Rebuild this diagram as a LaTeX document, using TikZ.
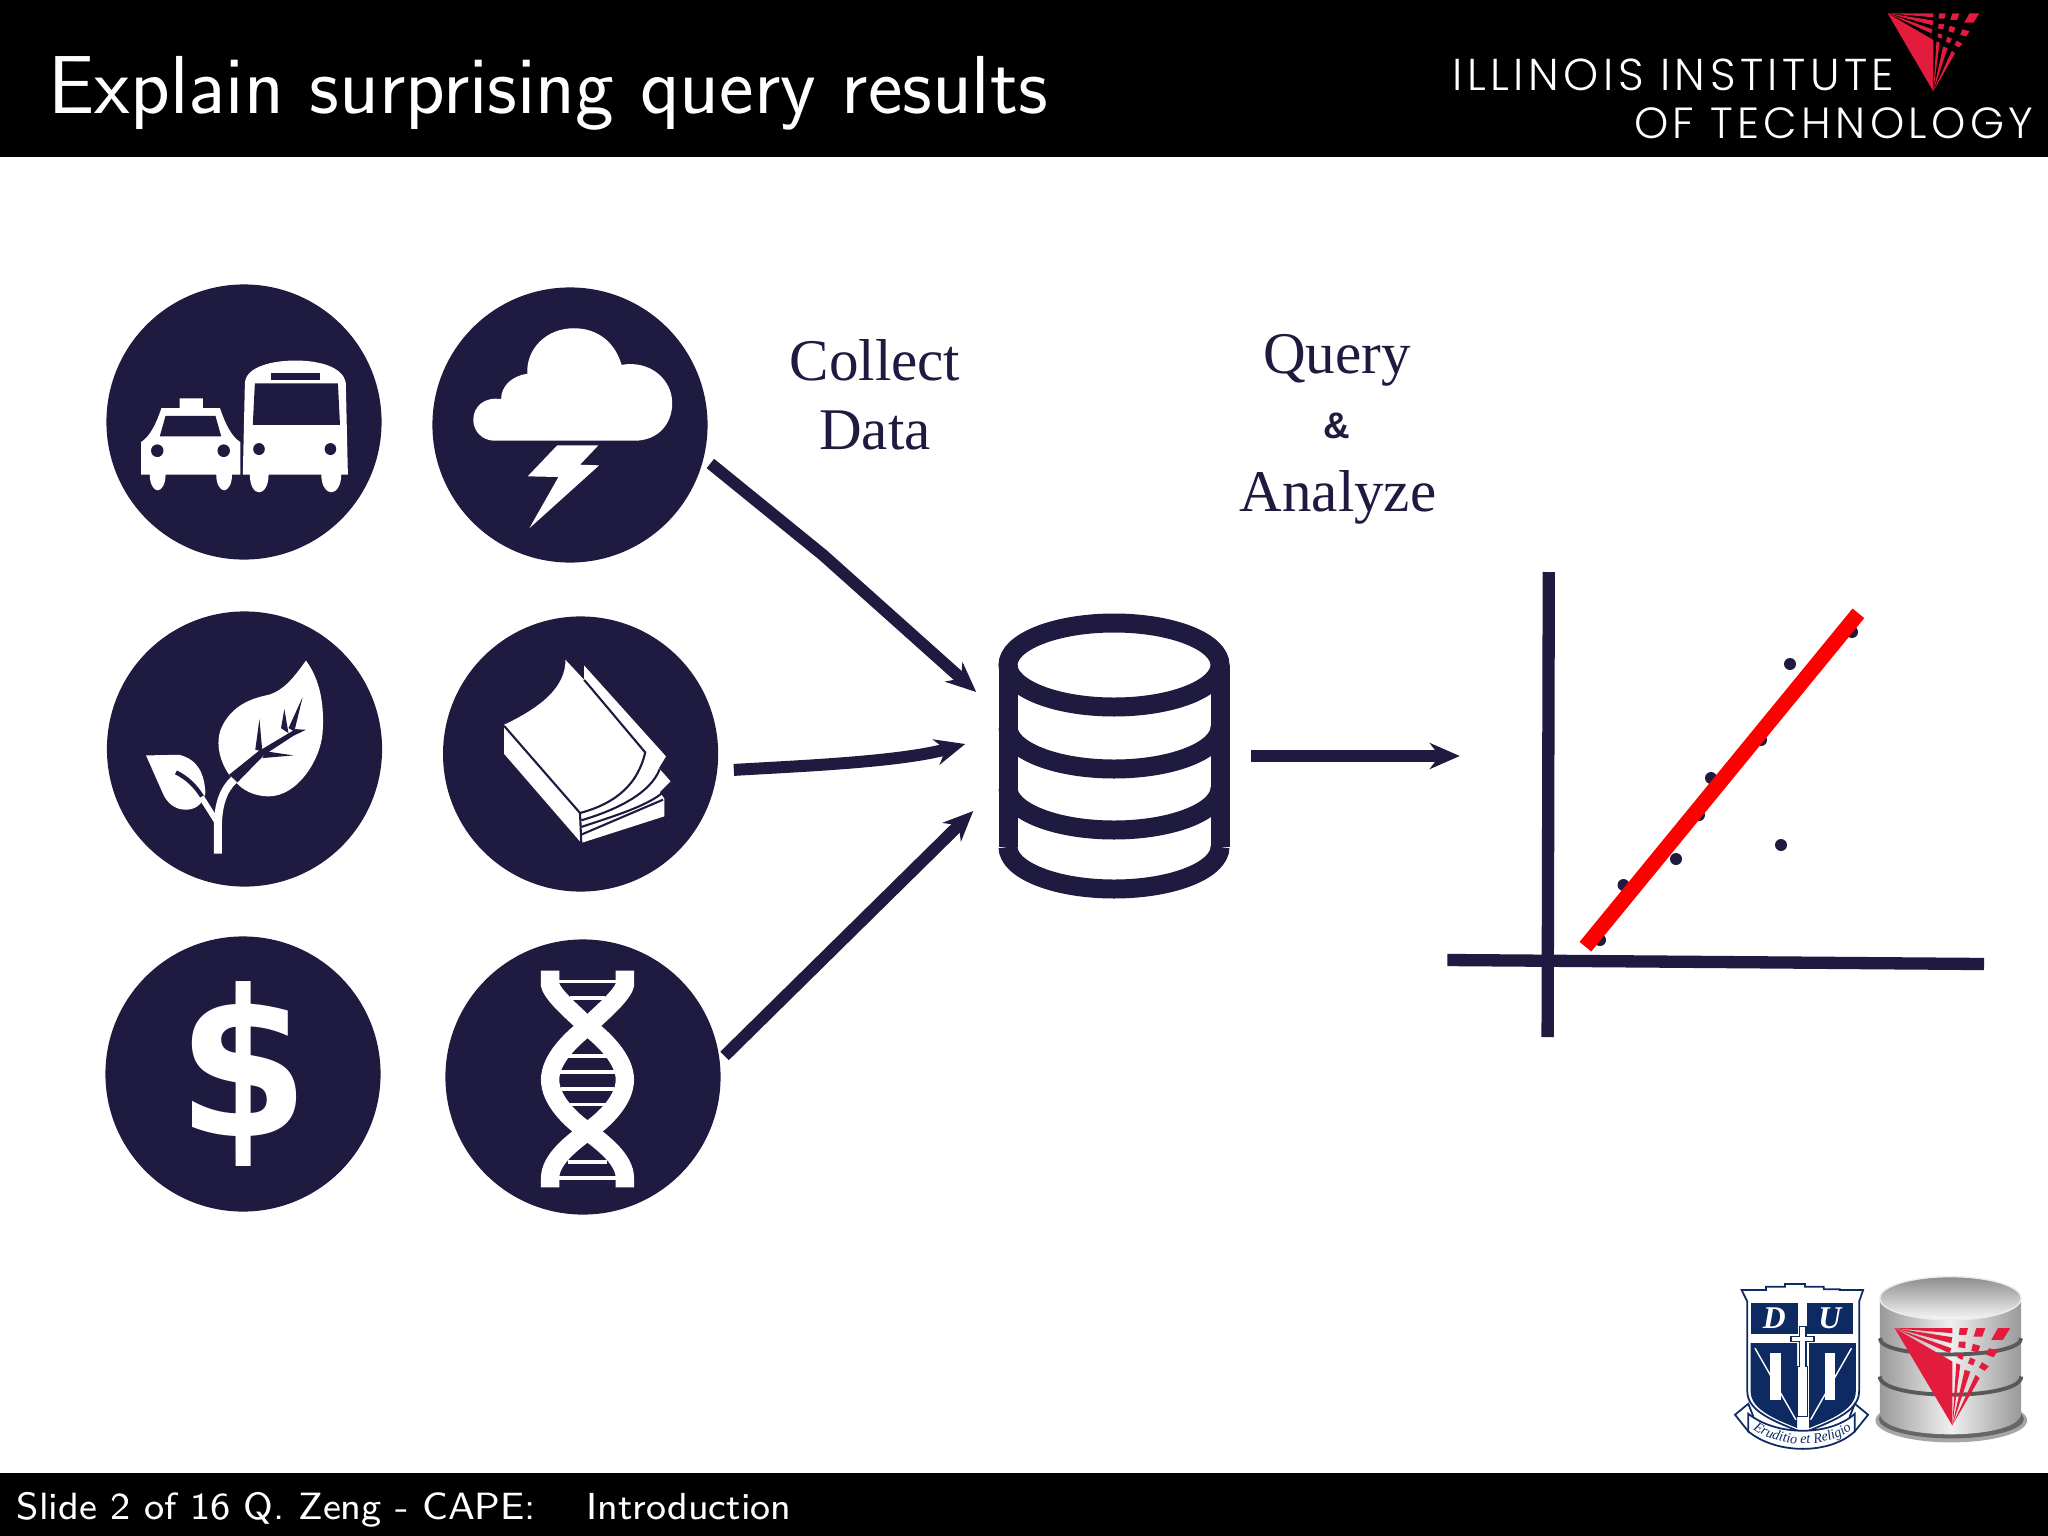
\documentclass[tikz,border=0pt]{standalone}
\usepackage{fontspec}
\usepackage{tikz}
\usetikzlibrary{shapes,arrows.meta,positioning,calc,decorations.text}
\newfontfamily\labelfont{Liberation Serif}
\newfontfamily\ampfont{Liberation Sans}
\newfontfamily\moneyfont[FakeStretch=0.93]{DejaVu Sans}
\newfontfamily\logofont[UprightFont=* Light, LetterSpace=10]{Poppins}
\newfontfamily\footfont[OpticalSize=8]{Latin Modern Sans}
\definecolor{navy}{HTML}{1F1A3F}
\definecolor{iitred}{HTML}{E31B3C}
\definecolor{dukeblue}{HTML}{0E2A63}
\tikzset{
  badge/.style={circle, fill=navy, minimum size=2.75cm, inner sep=0pt, text=white},
  flow/.style={draw=navy, line width=3.4pt, -{Stealth[length=3mm,width=2.6mm]}},
  axisline/.style={draw=navy, line width=3.5pt},
  caption/.style={anchor=base, text=navy, inner sep=0pt, font=\labelfont\fontsize{16.8}{20}\selectfont},
  zoomed/.style={x=0.004146cm, y=-0.003333cm},
  logozoom/.style={x=0.003333cm, y=-0.003333cm},
  dbstroke/.style={draw=navy, line width=5.4pt},
  iitmark/.pic={
    \fill[iitred] (0,0) -- (173,292) -- (173,100) -- cycle;
    \fill[iitred] (0,0) -- (173,0) -- (173,15) -- cycle;
    \fill[iitred] (0,0) -- (173,27) -- (170,45) -- cycle;
    \fill[iitred] (0,0) -- (170,60) -- (165,75) -- cycle;
    \fill[iitred] (173,292) -- (185,105) -- (197,110) -- cycle;
    \fill[iitred] (173,292) -- (210,125) -- (227,130) -- cycle;
    \fill[iitred] (173,292) -- (243,140) -- (255,150) -- cycle;
    \fill[iitred] (195,0) -- (220,0) -- (215,20) -- (193,20) -- cycle;
    \fill[iitred] (245,0) -- (272,0) -- (263,25) -- (237,25) -- cycle;
    \fill[iitred] (310,0) -- (347,0) -- (325,35) -- (290,35) -- cycle;
    \fill[iitred] (193,40) -- (213,40) -- (212,60) -- (191,57) -- cycle;
    \fill[iitred] (235,47) -- (257,53) -- (250,73) -- (230,67) -- cycle;
    \fill[iitred] (283,60) -- (310,67) -- (297,87) -- (275,80) -- cycle;
    \fill[iitred] (192,75) -- (208,80) -- (203,95) -- (188,88) -- cycle;
    \fill[iitred] (227,88) -- (243,95) -- (235,112) -- (220,105) -- cycle;
    \fill[iitred] (262,102) -- (283,115) -- (270,128) -- (253,118) -- cycle;
  }
}
\begin{document}
\begin{tikzpicture}[x=0.01cm, y=-0.01cm, every node/.style={inner sep=0pt}]
\useasboundingbox (0,0) rectangle (2048,1536);
\fill[white] (0,0) rectangle (2048,1536);
\fill[black] (0,0) rectangle (2048,157);
\fill[black] (0,1473) rectangle (2048,1536);
\node[anchor=base west, text=white, font=\sffamily\fontsize{23.4}{28}\selectfont] (title) at (48,113) {Explain surprising query results};
\node[anchor=base east, text=white, font=\logofont\fontsize{12.7}{15}\selectfont] (iitone) at (1895,90) {ILLINOIS INSTITUTE};
\node[anchor=base east, text=white, font=\logofont\fontsize{12.4}{15}\selectfont] (iittwo) at (2034,138) {OF TECHNOLOGY};
\coordinate (headmark) at (1887.6,13.3);
\pic[x=0.00264cm, y=-0.00267cm] at (headmark) {iitmark};
\node[anchor=base west, text=white, font=\footfont\fontsize{10.8}{14}\selectfont] (slideno) at (16,1519) {Slide 2 of 16 Q. Zeng - CAPE:};
\node[anchor=base west, text=white, font=\footfont\fontsize{10.7}{14}\selectfont] (section) at (586,1519) {Introduction};

\node[badge] (taxi) at (244,422) {};
\node[badge] (storm) at (570,425) {};
\node[badge] (plant) at (244.5,749) {};
\node[badge] (book) at (580.6,754) {};
\node[badge, font=\moneyfont\bfseries\fontsize{58}{60}\selectfont] (money) at (243,1074) {\$};
\node[badge] (dna) at (583,1077) {};

\begin{scope}[shift={(90,270)}, zoomed]
\fill[white] (123,517) .. controls (145,500) and (160,460) .. (172,415) -- (216,415) -- (216,386) -- (272,386) -- (272,415) -- (313,415) .. controls (325,460) and (340,500) .. (362,517) -- (362,615) -- (342,615) .. controls (342,645) and (332,662) .. (323,662) .. controls (314,662) and (304,645) .. (304,615) -- (182,615) .. controls (182,645) and (172,662) .. (163,662) .. controls (154,662) and (144,645) .. (144,615) -- (123,615) -- cycle;
\fill[navy] (182,438) -- (302,438) -- (316,500) -- (168,500) -- cycle;
\fill[navy] (162,543) ellipse[x radius=15, y radius=19];
\fill[navy] (322,543) ellipse[x radius=15, y radius=19];
\fill[white] (368,615) -- (373,340) .. controls (375,290) and (440,272) .. (495,272) .. controls (550,272) and (610,290) .. (616,340) -- (621,615) -- (605,615) .. controls (605,650) and (592,668) .. (581,668) .. controls (570,668) and (557,650) .. (557,615) -- (430,615) .. controls (430,650) and (418,668) .. (407,668) .. controls (396,668) and (385,650) .. (385,615) -- cycle;
\fill[navy] (397,341) -- (597,341) -- (602,465) -- (392,465) -- cycle;
\fill[navy] (435,310) rectangle (555,331);
\fill[navy] (407,538) ellipse[x radius=14, y radius=18];
\fill[navy] (579,538) ellipse[x radius=14, y radius=18];
\fill[white] (975,513) -- (1310,513) .. controls (1370,513) and (1402,460) .. (1402,400) .. controls (1402,330) and (1350,270) .. (1280,285) .. controls (1265,220) and (1225,175) .. (1165,175) .. controls (1100,175) and (1050,235) .. (1053,312) .. controls (1015,318) and (990,350) .. (990,388) .. controls (950,380) and (923,410) .. (923,450) .. controls (923,485) and (945,513) .. (975,513) -- cycle;
\fill[white] (1125,527) -- (1224,527) -- (1180,585) -- (1226,587) -- (1058,776) -- (1128,622) -- (1054,620) -- cycle;
\end{scope}

\begin{scope}[shift={(90,600)}, zoomed]
\fill[white] (520,182) .. controls (555,240) and (565,320) .. (560,400) .. controls (555,480) and (500,590) .. (430,590) .. controls (395,590) and (365,570) .. (350,545) -- (335,525) .. controls (310,480) and (300,420) .. (320,375) .. controls (345,315) and (390,295) .. (430,285) .. controls (470,270) and (495,225) .. (520,182) -- cycle;
\fill[navy] (335,525) -- (405,455) -- (495,388) -- (520,390) -- (490,408) -- (420,465) -- (355,548) -- cycle;
\fill[navy] (408,358) -- (398,450) -- (415,455) -- cycle;
\fill[navy] (468,328) -- (460,385) -- (478,400) -- cycle;
\fill[navy] (512,292) -- (478,385) -- (492,395) -- cycle;
\fill[navy] (490,467) -- (425,455) -- (415,475) -- cycle;
\fill[white] (135,467) -- (215,465) .. controls (260,480) and (275,520) .. (278,580) .. controls (270,620) and (250,630) .. (230,630) .. controls (205,630) and (185,610) .. (175,580) -- cycle;
\draw[navy, line width=1.2pt] (207,518) .. controls (235,535) and (255,560) .. (272,595);
\draw[white, line width=2.3pt] (308,762) -- (308,680) .. controls (308,620) and (320,570) .. (347,540);
\draw[white, line width=1.6pt] (305,665) -- (268,592);
\fill[white] (1145,180) -- (1190,240) -- (1190,197) -- (1387,470) -- (1370,505) -- (1398,545) -- (1372,577) -- (1383,597) -- (1383,650) -- (1183,730) -- (997,462) -- (997,375) .. controls (1090,320) and (1145,260) .. (1145,180) -- cycle;
\draw[navy, line width=0.6pt] (997,378) -- (1180,640) -- (1183,730);
\draw[navy, line width=0.6pt] (1180,640) .. controls (1270,610) and (1320,550) .. (1337,458) -- (1190,240);
\draw[navy, line width=0.6pt] (1183,662) .. controls (1270,630) and (1350,580) .. (1372,508);
\draw[navy, line width=0.6pt] (1183,682) .. controls (1260,650) and (1340,620) .. (1380,578);
\draw[navy, line width=0.6pt] (1183,705) -- (1380,600);
\end{scope}

\begin{scope}[shift={(90,930)}, zoomed]
\draw[white, line width=5.2pt] (1108,122) -- (1108,165) .. controls (1115,200) and (1175,260) .. (1198,290) .. controls (1240,330) and (1288,390) .. (1288,450) .. controls (1288,510) and (1240,570) .. (1198,605) .. controls (1160,640) and (1108,690) .. (1108,745) -- (1108,773);
\draw[white, line width=5.2pt] (1288,122) -- (1288,165) .. controls (1281,200) and (1221,260) .. (1198,290) .. controls (1156,330) and (1108,390) .. (1108,450) .. controls (1108,510) and (1156,570) .. (1198,605) .. controls (1236,640) and (1288,690) .. (1288,745) -- (1288,773);
\foreach \ya/\xa/\xb in {155/1130/1266, 205/1155/1241, 378/1150/1246, 427/1132/1264, 477/1135/1261, 525/1150/1246, 697/1150/1246, 745/1130/1266}
  \draw[white, line width=1pt] (\xa,\ya) -- (\xb,\ya);
\end{scope}

\node[minimum width=2.32cm, minimum height=2.84cm] (db) at (1114,756) {};
\draw[dbstroke] (1114,665) ellipse[x radius=106, y radius=42];
\draw[dbstroke] (1008,665) -- (1008,847);
\draw[dbstroke] (1220,665) -- (1220,847);
\draw[dbstroke] (1008,727) arc[start angle=180, end angle=0, x radius=106, y radius=42];
\draw[dbstroke] (1008,788) arc[start angle=180, end angle=0, x radius=106, y radius=42];
\draw[dbstroke] (1008,847) arc[start angle=180, end angle=0, x radius=106, y radius=42];

\coordinate (dbin1) at ($(db.west)+(-21,-64)$);
\coordinate (dbin2) at ($(db.west)+(-32,-12)$);
\coordinate (dbin3) at ($(db.west)+(-24,55)$);
\coordinate (chartin) at ($(db.east)+(229,0)$);
\draw[flow, shorten <=0.08cm] (storm.-14) -- (823,555) -- (dbin1);
\draw[flow, shorten <=0.16cm] (book.-7) .. controls (800,766) and (900,762) .. (dbin2);
\draw[flow, shorten <=0.06cm] (dna.7) -- (dbin3);
\draw[flow, shorten <=0.2cm] (db.east) -- (chartin);

\node[caption] (collect) at (875,380) {Collect};
\node[caption] (data) at (875,449) {Data};
\node[caption] (query) at (1337,373) {Query};
\node[anchor=base, text=navy, font=\ampfont\bfseries\fontsize{10.5}{12}\selectfont] (amp) at (1337,438) {\&};
\node[caption] (analyze) at (1338,511) {Analyze};

\draw[axisline] (1548.8,572) -- (1547.6,1037);
\draw[axisline] (1447.4,960) -- (1984,964);
\foreach \px/\py in {1600/940, 1623.5/885, 1676/859, 1699/815, 1711/778, 1761/740, 1790/664, 1781/845, 1852/632}
  \fill[navy] (\px,\py) circle[radius=6];
\draw[red, line width=4.3pt] (1585.4,946.7) -- (1858.4,613.3);

\begin{scope}[shift={(1720,1260)}, logozoom]
\fill[white, draw=dukeblue, line width=0.5pt] (65,90) -- (138,90) -- (138,80) -- (195,80) -- (195,72) -- (255,72) -- (255,80) -- (312,80) -- (312,88) -- (360,88) -- (360,90) -- (430,90) -- (418,125) -- (418,395) .. controls (418,460) and (320,490) .. (250,520) .. controls (180,490) and (82,460) .. (82,395) -- (82,125) -- cycle;
\fill[dukeblue] (92,130) rectangle (235,222);
\fill[dukeblue] (260,130) rectangle (400,222);
\node[text=white, font=\labelfont\bfseries\itshape\fontsize{9}{10}\selectfont] (letterd) at (163,176) {D};
\node[text=white, font=\labelfont\bfseries\itshape\fontsize{9}{10}\selectfont] (letteru) at (330,176) {U};
\fill[dukeblue] (92,250) -- (232,250) -- (232,505) .. controls (170,480) and (92,450) .. (92,395) -- cycle;
\fill[dukeblue] (408,250) -- (268,250) -- (268,505) .. controls (330,480) and (408,450) .. (408,395) -- cycle;
\fill[white] (150,280) rectangle (183,420);
\fill[white] (315,280) rectangle (345,420);
\draw[white, line width=0.4pt] (105,265) -- (228,480);
\draw[white, line width=0.4pt] (395,265) -- (272,480);
\draw[dukeblue, line width=0.4pt] (238,200) -- (238,230) -- (213,230) -- (213,245) -- (238,245) -- (238,320) -- (232,320) -- (232,470) -- (262,470) -- (262,320) -- (258,320) -- (258,245) -- (282,245) -- (282,230) -- (258,230) -- (258,200) -- cycle;
\fill[white, draw=dukeblue, line width=0.5pt] (45,465) -- (85,432) -- (100,470) -- (85,515) -- cycle;
\fill[white, draw=dukeblue, line width=0.5pt] (445,465) -- (405,432) -- (390,470) -- (405,515) -- cycle;
\fill[white, draw=dukeblue, line width=0.5pt] (85,462) .. controls (170,530) and (330,530) .. (405,462) -- (405,515) .. controls (330,585) and (170,585) .. (85,515) -- cycle;
\path[decorate, decoration={text along path, text align=center, text={|\color{dukeblue}\labelfont\itshape\fontsize{4}{5}\selectfont|Eruditio et Religio}}] (95,505) .. controls (170,568) and (330,568) .. (400,505);
\fill[black!35] (695,482) ellipse[x radius=228, y radius=66];
\fill[black!60] (695,478) ellipse[x radius=218, y radius=58];
\path[left color=black!40, right color=black!40, middle color=black!6] (480,115) -- (480,460) .. controls (480,545) and (905,545) .. (905,460) -- (905,115) -- cycle;
\draw[black!65, line width=1.1pt] (480,235) .. controls (480,300) and (905,300) .. (905,235);
\draw[black!65, line width=1.1pt] (480,350) .. controls (480,423) and (905,423) .. (905,350);
\path[top color=black!45, bottom color=black!3, draw=black!8] (692.5,115) ellipse[x radius=212.5, y radius=65];
\coordinate (dbmark) at (525,205);
\pic at (dbmark) {iitmark};
\end{scope}
\end{tikzpicture}
\end{document}
